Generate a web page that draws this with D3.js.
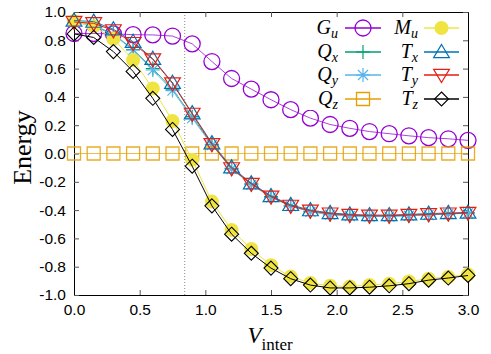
<!DOCTYPE html>
<html>
<head>
<meta charset="utf-8">
<script src="https://cdn.jsdelivr.net/npm/d3@7"></script>
<style>
  body { margin: 0; background: #fff; }
  svg { display: block; }
</style>
</head>
<body>
<svg id="chart" width="491" height="354"></svg>
<script>
// data
const vInter = [0, 0.15, 0.3, 0.45, 0.6, 0.75, 0.9, 1.05, 1.2, 1.35, 1.5, 1.65, 1.8, 1.95, 2.1, 2.25, 2.4, 2.55, 2.7, 2.85, 3.0];
const gU = [0.848, 0.848, 0.845, 0.84, 0.838, 0.83, 0.775, 0.65, 0.53, 0.455, 0.38, 0.31, 0.25, 0.205, 0.178, 0.155, 0.14, 0.125, 0.112, 0.104, 0.093];
const qX = [0.935, 0.905, 0.845, 0.735, 0.6, 0.455, 0.26, 0.065, -0.105, -0.215, -0.305, -0.37, -0.41, -0.43, -0.44, -0.443, -0.443, -0.438, -0.432, -0.426, -0.42];
const qY = [0.93, 0.9, 0.84, 0.73, 0.59, 0.445, 0.25, 0.06, -0.11, -0.22, -0.31, -0.372, -0.412, -0.432, -0.442, -0.445, -0.445, -0.44, -0.434, -0.428, -0.422];
const qZ = [0, 0, 0, 0, 0, 0, 0, 0, 0, 0, 0, 0, 0, 0, 0, 0, 0, 0, 0, 0, 0];
const mU = [0.935, 0.9, 0.81, 0.66, 0.46, 0.23, -0.045, -0.34, -0.54, -0.675, -0.79, -0.87, -0.915, -0.935, -0.94, -0.93, -0.92, -0.905, -0.885, -0.872, -0.855];
const tX = [0.94, 0.932, 0.878, 0.79, 0.67, 0.5, 0.285, 0.073, -0.097, -0.21, -0.3, -0.363, -0.4, -0.42, -0.43, -0.435, -0.435, -0.43, -0.425, -0.42, -0.417];
const tY = [0.93, 0.92, 0.87, 0.78, 0.665, 0.495, 0.28, 0.065, -0.105, -0.215, -0.305, -0.37, -0.405, -0.425, -0.435, -0.44, -0.44, -0.435, -0.43, -0.425, -0.42];
const tZ = [0.845, 0.82, 0.72, 0.58, 0.39, 0.17, -0.09, -0.37, -0.57, -0.705, -0.81, -0.885, -0.93, -0.95, -0.95, -0.945, -0.935, -0.92, -0.895, -0.88, -0.862];
const xTicks = [0, 0.5, 1.0, 1.5, 2.0, 2.5, 3.0];
const yTicks = [-1.0, -0.8, -0.6, -0.4, -0.2, 0.0, 0.2, 0.4, 0.6, 0.8, 1.0];
const vCritical = 0.843;

let plotLeft = 74, plotRight = 468, plotTop = 12, plotBottom = 295;
const svg = d3.select('#chart');

const x = d3.scaleLinear().domain([0, 3]).range([plotLeft, plotRight]);
const y = d3.scaleLinear().domain([-1, 1]).range([plotBottom, plotTop]);

const fmt = d => (Math.abs(d) < 1e-9 ? 0 : d).toFixed(1);

// dotted marker of the transition
svg.append('line')
  .attr('x1', x(vCritical)).attr('x2', x(vCritical))
  .attr('y1', plotTop).attr('y2', plotBottom)
  .attr('stroke', '#888').attr('stroke-width', 1)
  .attr('stroke-dasharray', '1,2');

// axes (ticks inward)
const tickLen = 5;
svg.append('g')
  .attr('transform', 'translate(0,' + plotBottom + ')')
  .call(d3.axisBottom(x).tickValues(xTicks).tickFormat(fmt).tickSizeInner(-tickLen).tickSizeOuter(0).tickPadding(9));
svg.append('g')
  .attr('transform', 'translate(0,' + plotTop + ')')
  .call(d3.axisTop(x).tickValues(xTicks).tickFormat('').tickSizeInner(-tickLen).tickSizeOuter(0));
svg.append('g')
  .attr('transform', 'translate(' + plotLeft + ',0)')
  .call(d3.axisLeft(y).tickValues(yTicks).tickFormat(fmt).tickSizeInner(-tickLen).tickSizeOuter(0).tickPadding(8));
svg.append('g')
  .attr('transform', 'translate(' + plotRight + ',0)')
  .call(d3.axisRight(y).tickValues(yTicks).tickFormat('').tickSizeInner(-tickLen).tickSizeOuter(0));

svg.selectAll('.domain').attr('stroke', '#000');
svg.selectAll('.tick line').attr('stroke', '#555');
svg.selectAll('.tick text')
  .style('font-family', '"Liberation Sans", Arial, sans-serif')
  .style('font-size', '15.5px')
  .attr('fill', '#000');

// markers
const markerPath = {
  circle: r => d3.symbol().type(d3.symbolCircle).size(Math.PI * r * r)(),
  square: s => 'M' + (-s) + ',' + (-s) + 'H' + s + 'V' + s + 'H' + (-s) + 'Z',
  triUp: s => 'M0,' + (-s) + 'L' + (s * 1.05) + ',' + (s * 0.75) + 'L' + (-s * 1.05) + ',' + (s * 0.75) + 'Z',
  triDown: s => 'M0,' + s + 'L' + (s * 1.05) + ',' + (-s * 0.75) + 'L' + (-s * 1.05) + ',' + (-s * 0.75) + 'Z',
  diamond: s => 'M0,' + (-s) + 'L' + s + ',0L0,' + s + 'L' + (-s) + ',0Z',
  plus: s => 'M' + (-s) + ',0H' + s + 'M0,' + (-s) + 'V' + s,
  star: s => {
    let d = 'M' + (-s) + ',0H' + s + 'M0,' + (-s) + 'V' + s;
    let k = s * 0.72;
    return d + 'M' + (-k) + ',' + (-k) + 'L' + k + ',' + k + 'M' + (-k) + ',' + k + 'L' + k + ',' + (-k);
  }
};

const series = [
  {name: 'G', sub: 'u', values: gU, color: '#9400d3', shape: 'circle', size: 8, fill: 'none', lineOpacity: 0.75, sw: 1.3},
  {name: 'Q', sub: 'x', values: qX, color: '#009e73', shape: 'plus', size: 7, fill: 'none', lineOpacity: 0.8, sw: 1.2},
  {name: 'Q', sub: 'y', values: qY, color: '#56b4e9', shape: 'star', size: 7, fill: 'none', lineOpacity: 0.9, sw: 1.2},
  {name: 'Q', sub: 'z', values: qZ, color: '#e69f00', shape: 'square', size: 6.5, fill: 'none', lineOpacity: 0.7, sw: 1.3},
  {name: 'M', sub: 'u', values: mU, color: '#f0e442', shape: 'circle', size: 7, fill: '#f0e442', lineOpacity: 1, sw: 1.2},
  {name: 'T', sub: 'x', values: tX, color: '#0072b2', shape: 'triUp', size: 7.5, fill: 'none', lineOpacity: 0.9, sw: 1.2},
  {name: 'T', sub: 'y', values: tY, color: '#e51e10', shape: 'triDown', size: 7.5, fill: 'none', lineOpacity: 1, sw: 1.2},
  {name: 'T', sub: 'z', values: tZ, color: '#000000', shape: 'diamond', size: 7, fill: 'none', lineOpacity: 1, sw: 1.1}
];

const line = d3.line()
  .x((d, i) => x(vInter[i]))
  .y(d => y(d));

series.forEach(s => {
  let g = svg.append('g').attr('class', 'series');
  g.append('path')
    .attr('d', line(s.values))
    .attr('fill', 'none')
    .attr('stroke', s.color)
    .attr('stroke-opacity', s.lineOpacity)
    .attr('stroke-width', 1);
  g.selectAll('.pt')
    .data(s.values)
    .enter()
    .append('path')
    .attr('class', 'pt')
    .attr('transform', (d, i) => 'translate(' + x(vInter[i]) + ',' + y(d) + ')')
    .attr('d', markerPath[s.shape](s.size))
    .attr('fill', s.fill)
    .attr('stroke', s.fill === 'none' ? s.color : 'none')
    .attr('stroke-opacity', s.shape === 'square' ? 0.85 : 1)
    .attr('stroke-width', s.sw);
});

// legend
const legendX = [338, 418];
const sampleX = [[345, 381], [424, 459]];
const legendY = [28, 52, 75, 99];
series.forEach((s, i) => {
  let col = Math.floor(i / 4);
  let row = i % 4;
  let ly = legendY[row];
  let g = svg.append('g').attr('class', 'legend');
  g.append('rect')
    .attr('x', legendX[col] - 34).attr('y', ly - 11)
    .attr('width', sampleX[col][1] - legendX[col] + 36).attr('height', 22)
    .attr('fill', '#fff');
  let t = g.append('text')
    .attr('x', legendX[col]).attr('y', ly + 6)
    .attr('text-anchor', 'end')
    .style('font-family', '"Liberation Serif", "DejaVu Serif", serif')
    .style('font-style', 'italic')
    .style('font-size', '20px');
  t.append('tspan').text(s.name);
  t.append('tspan').attr('dy', 4).style('font-size', '14px').text(s.sub);
  g.append('line')
    .attr('x1', sampleX[col][0]).attr('x2', sampleX[col][1])
    .attr('y1', ly).attr('y2', ly)
    .attr('stroke', s.color).attr('stroke-width', 1.4);
  g.append('path')
    .attr('transform', 'translate(' + ((sampleX[col][0] + sampleX[col][1]) / 2) + ',' + ly + ')')
    .attr('d', markerPath[s.shape](s.size))
    .attr('fill', s.fill)
    .attr('stroke', s.fill === 'none' ? s.color : 'none')
    .attr('stroke-width', s.sw);
});

// axis titles
svg.append('text')
  .attr('transform', 'translate(31,' + ((plotTop + plotBottom) / 2 - 6) + ') rotate(-90)')
  .attr('text-anchor', 'middle')
  .style('font-family', '"Liberation Serif", "DejaVu Serif", serif')
  .style('font-size', '26px')
  .text('Energy');

let xl = svg.append('text')
  .attr('x', 270).attr('y', 343)
  .attr('text-anchor', 'middle')
  .style('font-family', '"Liberation Serif", "DejaVu Serif", serif')
  .style('font-size', '23px');
xl.append('tspan').style('font-style', 'italic').text('V');
xl.append('tspan').attr('dy', 7).style('font-size', '17px').text('inter');
</script>
</body>
</html>
